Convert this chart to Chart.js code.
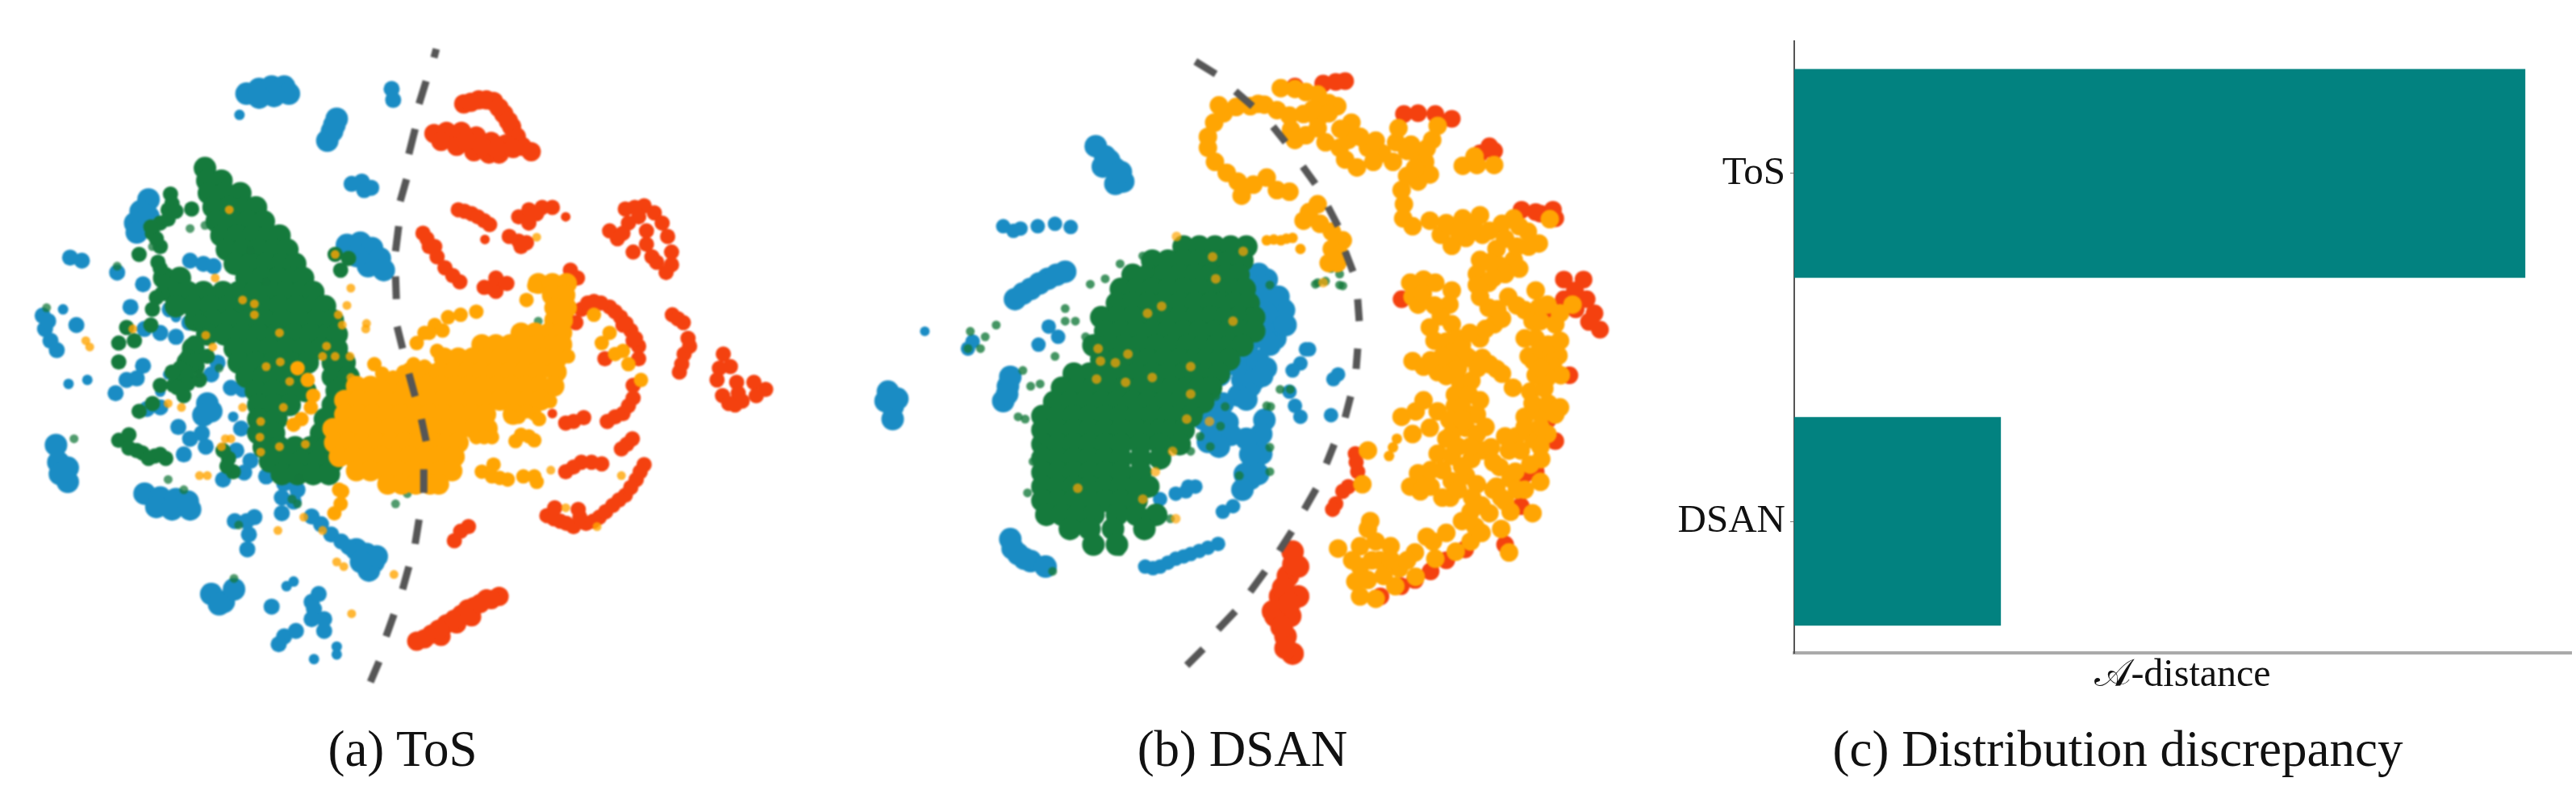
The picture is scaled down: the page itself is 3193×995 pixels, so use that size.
<!DOCTYPE html>
<html>
<head>
<meta charset="utf-8">
<script src="https://cdn.jsdelivr.net/npm/chart.js@4/dist/chart.umd.min.js"></script>
<style>
html, body { margin: 0; background: #fff; width: 3193px; height: 995px; overflow: hidden; }
canvas { position: absolute; top: 0; }
#tsneA { left: 0; filter: blur(0.9px); }
#tsneB { left: 1040px; filter: blur(0.9px); }
#bars { left: 2040px; }
.caption { position: absolute; top: 892px; font: 63px "Liberation Serif", serif; color: #111; transform: translateX(-50%); white-space: nowrap; }
</style>
</head>
<body>
<canvas id="tsneA" width="1000" height="995"></canvas>
<canvas id="tsneB" width="1000" height="995"></canvas>
<canvas id="bars" width="1153" height="866"></canvas>
<div class="caption" style="left:499px">(a) ToS</div>
<div class="caption" style="left:1540px">(b) DSAN</div>
<div class="caption" style="left:2625px">(c) Distribution discrepancy</div>
<script>
// bar chart values
const methods = ['ToS', 'DSAN'];
const methodRows = [0, 1];
const aDistance = [1.882, 0.532];

// (a) ToS embedding
// dense areas are written as [y, [x, x, ...]] rows
const tosGreenRows = [[200,[247]],[216,[250,268]],[232,[252,272,292]],[250,[258,278,298,312]],[268,[262,282,302,322]],[286,[268,288,308,328,342]],[304,[275,295,315,335,352]],[322,[285,305,325,345,362]],[340,[195,215,300,320,340,360,372]],[358,[205,225,245,270,290,310,330,350,370,385]],[376,[210,232,254,276,298,320,342,364,386,400]],[394,[235,257,279,301,323,345,367,389,410]],[412,[250,272,294,316,338,360,382,404,415]],[430,[232,285,307,329,351,373,395,415]],[448,[225,290,312,334,356,378,410,425]],[466,[300,322,344,366,410,430]],[484,[312,334,356,375,415]],[502,[315,335,355,410]],[520,[315,338,400,420]],[538,[315,335,395,420,440]],[556,[322,342,362,382,402,425]],[574,[330,350,370,390,410]],[590,[345,365,385,405]]];
const tosOrangeRows = [[347,[672,690,708]],[362,[690,706]],[378,[693,708]],[394,[693,703]],[410,[650,668,686,702]],[425,[600,618,636,654,672,690,702]],[442,[552,570,588,606,624,642,660,678,696]],[460,[510,528,546,564,582,600,618,636,654,672,695]],[478,[440,458,476,494,512,530,548,566,584,602,620,638,656,674,692]],[496,[425,443,461,479,497,515,533,551,569,587,605,623,641,659,675]],[514,[425,443,461,479,497,515,533,551,569,587,605,640]],[532,[410,428,446,464,482,500,518,536,554,572,590,607]],[550,[412,430,448,466,484,502,520,538,556,570]],[568,[418,436,454,472,490,508,526,544,565]],[586,[440,458,476,494,512,530,548,562]],[603,[480,498,516,534,545]]];
const tosGreenMid = [[203,233],[200,253],[190,270],[180,283],[190,300],[187,320],[193,337],[230,252],[163,310],[147,403],[137,423],[137,447],[157,420],[233,423],[227,440],[237,453],[213,467],[207,477],[190,477],[180,500],[163,510],[220,490],[137,547],[150,557],[167,563],[183,567],[197,570],[277,570],[283,587],[413,310],[420,330],[430,315],[472,492],[497,497],[225,440],[235,445],[215,455],[225,465],[205,460],[225,475],[212,480],[190,328],[195,345],[192,360],[185,365],[205,245],[210,255],[200,265],[185,290],[178,275],[150,540],[160,560],[175,570],[190,565],[270,560],[275,580],[180,380],[178,400],[240,395],[250,440],[240,470]];
const tosGreenSmall = [[228,277],[247,273],[80,545],[200,597],[220,610],[135,325],[180,300],[45,378],[162,513],[240,462],[265,455],[305,305],[325,345],[490,628],[505,615],[365,628],[358,622],[290,655],[284,723],[367,595],[672,395]];
const tosBlueBlobs = [[57,553],[60,575],[72,582],[72,600],[62,590],[170,615],[190,620],[210,622],[228,635],[185,632],[205,635],[225,625],[250,500],[245,515],[255,510],[428,298],[445,295],[460,302],[470,315],[475,330],[455,325],[440,312],[175,240],[165,255],[158,270],[160,282],[175,262],[300,105],[316,99],[332,96],[348,96],[354,105],[335,108],[316,110],[415,137],[409,153],[403,165],[412,145],[453,692],[462,702],[456,713],[466,695],[440,686],[446,702],[255,743],[271,753],[284,737],[265,756]];
const tosBlueMid = [[228,318],[245,322],[258,325],[75,314],[90,318],[40,388],[43,405],[50,420],[58,432],[47,395],[83,400],[170,405],[190,410],[210,415],[227,397],[168,348],[135,333],[152,377],[202,380],[168,452],[147,470],[133,487],[160,468],[213,530],[228,545],[243,538],[248,555],[220,565],[270,597],[297,588],[305,573],[287,560],[293,532],[173,507],[190,505],[280,480],[295,482],[255,463],[263,448],[325,593],[348,602],[345,620],[360,625],[345,640],[365,610],[285,650],[300,650],[310,645],[303,667],[301,686],[383,644],[395,654],[408,667],[421,676],[430,683],[485,99],[487,113],[434,220],[447,217],[459,225],[450,228],[383,753],[392,743],[386,762],[399,775],[383,775],[399,790],[348,797],[341,807],[363,790],[332,759]];
const tosBlueSmall = [[291,132],[66,380],[73,475],[97,470],[200,463],[360,727],[351,733],[386,826],[415,820],[415,810],[283,517],[190,485],[210,390]];
const tosOrangeMid = [[593,383],[573,387],[557,390],[540,400],[527,410],[517,423],[533,410],[550,407],[543,433],[463,450],[473,462],[487,467],[500,460],[513,450],[527,453],[743,387],[763,410],[770,437],[787,450],[803,470],[753,423],[780,433],[657,368],[667,350],[613,543],[593,543],[603,543],[643,548],[650,540],[667,547],[660,542],[600,587],[613,593],[633,597],[653,593],[667,593],[615,578],[670,600],[623,595],[667,513],[673,520],[657,510],[647,517],[637,517],[687,497],[710,440],[365,455],[378,470],[385,490],[382,505],[370,520],[360,527],[418,610],[420,628],[412,640],[422,612]];
const tosOrangeSmall = [[278,253],[260,340],[295,368],[310,373],[310,387],[342,410],[325,453],[343,447],[355,472],[248,413],[257,428],[155,405],[95,420],[100,428],[433,353],[428,375],[417,387],[422,400],[453,398],[452,405],[402,427],[397,440],[413,440],[432,440],[433,467],[413,310],[295,505],[347,505],[318,523],[317,543],[318,562],[342,555],[375,552],[200,500],[217,505],[273,545],[268,555],[280,545],[240,592],[250,592],[373,645],[340,662],[397,662],[415,702],[424,708],[488,718],[434,768],[670,288],[688,585],[778,592],[707,633],[747,657]];
const tosRedBody = [[525,283],[533,300],[543,313],[553,327],[563,337],[572,345],[540,300],[530,290],[570,253],[587,258],[603,267],[610,272],[578,255],[595,262],[647,262],[660,253],[677,250],[690,250],[660,270],[670,258],[635,287],[647,293],[650,300],[657,295],[618,340],[618,357],[603,352],[632,347],[612,352],[713,330],[722,340],[783,252],[807,248],[820,257],[830,270],[837,287],[842,307],[842,323],[835,333],[795,250],[800,262],[787,270],[763,280],[773,290],[810,280],[810,297],[793,307],[817,313],[823,320],[780,283],[720,397],[727,380],[743,370],[763,377],[777,390],[790,407],[800,427],[800,443],[780,400],[793,420],[735,372],[752,372],[770,383],[784,398],[796,417],[793,477],[793,493],[780,513],[760,523],[770,517],[787,503],[757,443],[843,387],[857,397],[863,417],[858,437],[852,460],[865,427],[850,392],[855,450],[908,437],[917,453],[925,473],[932,497],[900,470],[907,490],[923,502],[927,487],[903,455],[915,500],[947,473],[962,482],[950,490],[683,643],[700,650],[717,657],[733,653],[750,645],[767,630],[783,617],[797,597],[807,578],[725,645],[692,647],[708,653],[742,650],[758,638],[775,623],[790,607],[802,587],[693,633],[723,635],[707,587],[727,575],[753,577],[717,581],[740,575],[785,552],[778,558],[792,545],[573,663],[565,675],[583,657],[717,523],[730,518],[707,525]];
const tosRedThick = [[517,803],[536,794],[555,781],[574,769],[590,759],[606,749],[622,746],[548,797],[568,781],[587,772],[527,800],[545,788],[565,775],[582,762],[598,755],[612,750],[577,118],[596,113],[615,115],[628,131],[638,147],[644,160],[586,116],[606,113],[622,123],[634,140],[539,156],[555,153],[574,153],[593,159],[612,166],[631,169],[651,172],[663,179],[548,166],[568,172],[590,179],[609,182],[622,182],[580,165],[600,172],[620,176],[640,175]];
const tosRedSmall = [[707,262],[604,291],[690,513],[615,345]];
const tosBoundary = [[542,48],[539,59],null,[529,89],[520,118],null,[515,150],[507,182],null,[504,214],[496,242],null,[494,274],[490,306],null,[490,338],[491,367],null,[492,402],[499,430],null,[507,462],[515,491],null,[523,520],[529,548],null,[526,584],[526,614],null,[520,648],[515,679],null,[507,708],[499,737],null,[488,769],[478,797],null,[469,829],[458,855]];

// (b) DSAN embedding
const dsanGreenRows = [[300,[425,445,465,485,505]],[318,[385,405,425,445,465,485,500]],[336,[360,380,400,420,440,460,480,495]],[354,[345,365,385,405,425,445,465,485,503]],[372,[340,360,380,400,420,440,460,475,490,508]],[390,[320,340,360,380,400,420,440,460,478,496,515]],[408,[325,345,365,385,405,425,445,465,482,500,515]],[426,[310,330,350,370,390,410,430,450,467,485,500]],[444,[320,340,360,380,400,420,440,455,472,483]],[462,[285,305,325,345,365,385,405,425,440,455,470]],[480,[270,290,310,330,350,370,390,410,430,445,460]],[498,[260,280,300,320,340,360,380,400,420,435,450]],[516,[245,265,285,305,325,345,365,385,405,420,435]],[534,[245,265,285,305,325,345,365,385,395,410,425]],[552,[245,265,285,305,325,345,370,395,420]],[570,[245,265,285,305,325,345,370,395]],[588,[245,265,285,305,325,345,370]],[606,[245,265,285,305,325,345,365,380]],[624,[245,265,285,305,325,345,365]],[642,[250,270,290,310,340,365,390]],[660,[280,305,335,375]],[680,[310,340]]];
const dsanGreenSmall = [[226,614],[233,574],[239,555],[214,517],[223,520],[220,458],[242,475],[230,478],[274,379],[274,395],[287,395],[300,415],[261,440],[306,348],[325,341],[344,322],[383,332],[373,312],[153,408],[186,400],[150,430],[166,430],[172,415],[536,504],[548,482],[561,482],[510,383],[472,529],[459,555],[446,542],[434,561],[446,510],[466,491],[478,504],[408,647],[344,689],[258,714],[606,344],[593,348],[628,350],[596,346],[624,349],[613,328],[624,335],[535,349],[531,503],[535,587],[496,592],[535,556]];
const dsanBlueBlobs = [[313,172],[325,185],[338,201],[348,217],[322,198],[338,220],[330,190],[345,205],[201,478],[195,497],[204,466],[200,488],[48,485],[54,504],[54,520],[45,497],[60,494],[204,673],[214,692],[230,701],[249,708],[207,685],[222,698],[531,342],[521,335],[546,364],[553,381],[542,417],[517,453],[510,478],[499,453],[517,381],[471,464],[460,506],[481,524],[456,549],[528,521],[524,539],[517,560],[514,578],[510,596],[524,564],[503,590],[520,590],[210,367],[230,354],[252,341],[274,332],[220,360],[241,347],[263,336],[525,350],[535,365],[520,365],[540,395],[530,385],[555,400],[525,405],[510,420],[535,425],[505,445],[520,445],[530,455],[500,470],[515,470],[525,465],[495,490],[505,495],[490,450],[455,490],[475,500],[450,520],[470,520],[485,540],[460,540],[470,555],[505,545],[510,565],[500,610]];
const dsanBlueMid = [[195,274],[217,277],[239,274],[261,271],[281,275],[208,280],[376,708],[395,708],[415,698],[434,692],[456,684],[469,679],[386,710],[405,703],[425,695],[445,688],[395,622],[415,615],[440,606],[428,612],[475,638],[488,631],[581,431],[574,449],[564,458],[585,431],[560,485],[567,503],[574,517],[616,469],[622,463],[613,515],[156,421],[150,430],[431,606],[253,402],[265,415],[240,425]];
const dsanBlueSmall = [[95,408]];
const dsanOrangeBody = [[549,98],[567,99],[581,103],[596,106],[610,117],[621,121],[456,160],[464,142],[476,130],[492,122],[510,121],[528,119],[544,126],[560,133],[578,131],[596,137],[562,151],[581,158],[596,149],[567,164],[456,174],[465,192],[480,206],[494,217],[499,235],[514,221],[531,212],[544,228],[560,230],[606,167],[624,174],[639,142],[635,164],[646,199],[631,189],[660,174],[678,181],[667,192],[692,192],[696,167],[699,149],[710,178],[724,185],[742,164],[749,146],[733,192],[739,208],[724,217],[703,228],[706,246],[705,264],[717,274],[739,267],[753,285],[767,299],[785,289],[781,264],[803,260],[806,285],[824,303],[846,317],[803,317],[799,335],[828,324],[853,328],[846,264],[864,281],[878,296],[831,271],[853,274],[781,197],[799,196],[821,196],[796,185],[892,265],[714,346],[731,342],[746,346],[717,364],[724,374],[767,356],[764,374],[753,389],[739,403],[767,399],[760,421],[774,417],[767,435],[785,439],[803,417],[821,399],[831,392],[814,378],[803,364],[799,349],[814,346],[839,364],[860,381],[878,378],[874,356],[899,399],[889,374],[921,374],[717,446],[731,453],[749,460],[767,449],[789,442],[806,442],[824,456],[831,462],[778,474],[792,471],[771,489],[789,489],[803,496],[789,514],[771,503],[799,514],[703,517],[721,510],[731,496],[749,510],[764,521],[717,539],[739,531],[767,539],[785,531],[799,539],[806,560],[792,571],[817,556],[749,564],[767,567],[835,542],[849,542],[871,546],[889,539],[860,517],[881,514],[899,514],[867,485],[885,481],[860,417],[874,417],[871,446],[903,439],[896,453],[906,464],[874,464],[889,467],[885,439],[867,578],[881,571],[828,581],[842,596],[724,589],[714,606],[731,606],[767,599],[785,592],[799,603],[824,606],[860,610],[663,650],[670,676],[650,682],[689,682],[650,708],[644,727],[622,685],[650,746],[670,749],[695,733],[721,721],[746,698],[772,689],[743,676],[791,676],[660,660],[675,700],[791,638],[797,657],[842,638],[848,587],[835,625],[815,640],[820,610],[830,660],[805,665],[727,612],[740,606],[765,620],[793,620],[755,620],[775,610],[585,256],[596,246],[578,267],[599,271],[614,281],[628,292],[614,303],[610,321],[621,321],[624,310],[660,560],[653,603],[840,690],[870,640],[850,610],[880,600],[470,120],[520,118],[590,125],[610,130],[625,150],[650,160],[670,165],[715,170],[720,200],[710,210],[735,175],[760,270],[775,280],[795,275],[815,280],[835,290],[850,300],[865,300],[815,320],[835,335],[820,340],[730,360],[745,375],[745,420],[755,440],[780,425],[790,410],[810,405],[825,380],[850,375],[870,395],[880,395],[905,385],[775,455],[760,465],[740,445],[800,455],[815,450],[780,505],[780,520],[760,545],[775,555],[790,555],[810,530],[860,530],[880,530],[865,440],[880,455],[880,430],[890,425],[905,420],[845,480],[870,500],[890,500],[905,505],[840,560],[820,575],[855,560],[880,555],[740,585],[755,585],[780,580],[830,620],[805,630],[780,650],[760,665],[735,670],[720,690],[700,710],[680,720],[665,700],[640,700],[660,725],[690,700],[710,700]];
const dsanOrangeThin = [[531,292],[549,292],[564,289],[574,303],[692,556],[697,545],[687,567],[540,291],[556,290]];
const dsanOrangeSmall = [[462,313],[501,306],[466,341],[379,385],[397,376],[488,395],[316,430],[354,437],[338,448],[319,446],[434,453],[385,467],[351,473],[314,469],[434,488],[429,520],[458,523],[411,561],[389,587],[373,622],[290,608],[415,647],[416,287],[603,346]];
const dsanRedEdge = [[567,96],[603,92],[631,89],[619,90],[706,131],[724,130],[746,131],[767,137],[750,140],[803,181],[821,178],[815,172],[856,253],[874,256],[896,253],[899,264],[880,258],[910,342],[935,342],[924,356],[939,367],[949,385],[956,406],[942,396],[910,367],[892,389],[925,380],[917,464],[899,548],[874,587],[855,631],[784,686],[740,714],[702,733],[676,746],[703,367],[890,520],[860,590],[835,680],[760,700],[720,725]];
const dsanRedBlob = [[564,689],[558,720],[548,746],[542,771],[561,771],[555,797],[564,819],[571,746],[539,765],[571,708],[555,812],[565,705],[552,735],[560,755],[550,785]];
const dsanRedMid = [[644,564],[647,587],[635,606],[619,628],[628,612],[615,635],[645,575]];
const dsanBoundary = [[440,64],[466,80],null,[491,102],[513,121],null,[539,147],[555,167],null,[577,198],[593,220],null,[609,249],[622,274],null,[631,306],[641,332],null,[647,367],[649,395],null,[647,430],[645,456],null,[638,491],[631,518],null,[617,552],[607,577],null,[594,609],[579,635],null,[563,663],[547,688],null,[529,714],[510,740],null,[491,765],[469,788],null,[450,813],[429,834]];

const BLUE = '#1a8cc4';
const GREEN = '#157a3c';
const ORANGE = '#ffa503';
const RED = '#f4410f';
const SERIF = '"Liberation Serif", "DejaVu Serif", serif';

// [y, [x, x]] rows to [x, y] pairs
function fromRows(rows) {
    const out = [];
    rows.forEach(r => r[1].forEach(x => out.push([x, r[0]])));
    return out;
}

// one scatter dataset
function dots(points, color, radius) {
    return {
        data: points.map(p => ({ x: p[0], y: p[1] })),
        backgroundColor: color,
        pointRadius: radius,
        pointHoverRadius: radius,
        pointBorderWidth: 0
    };
}

// dashed class boundary, null breaks the line
function boundary(points) {
    return {
        data: points.map(p => p ? { x: p[0], y: p[1] } : { x: NaN, y: NaN }),
        showLine: true,
        spanGaps: false,
        borderColor: '#565656',
        borderWidth: 9,
        pointRadius: 0
    };
}

// first dataset is drawn on top
function drawScatter(id, datasets) {
    new Chart(document.getElementById(id), {
        type: 'scatter',
        data: { datasets: datasets },
        options: {
            responsive: false,
            animation: false,
            plugins: { legend: { display: false }, tooltip: { enabled: false } },
            scales: {
                x: { display: false, min: 0, max: 1000 },
                y: { display: false, min: 0, max: 995, reverse: true }
            }
        }
    });
}

function drawBars() {
    new Chart(document.getElementById('bars'), {
        type: 'bar',
        data: {
            datasets: [{
                data: methods.map((m, i) => ({ x: aDistance[i], y: methodRows[i] })),
                backgroundColor: '#028280',
                barPercentage: 0.6,
                categoryPercentage: 1
            }]
        },
        options: {
            indexAxis: 'y',
            responsive: false,
            animation: false,
            layout: { padding: { top: 51, right: 6 } },
            plugins: { legend: { display: false }, tooltip: { enabled: false } },
            scales: {
                x: {
                    type: 'linear',
                    min: 0,
                    max: 2,
                    grid: { display: false },
                    ticks: { display: false },
                    border: { color: '#aaaaaa', width: 4 },
                    title: { display: true, text: '𝒜-distance', color: '#111', font: { family: SERIF, size: 48 }, padding: 0 },
                    afterFit: s => { s.height = 57; }
                },
                y: {
                    type: 'linear',
                    reverse: true,
                    offset: false,
                    min: -0.38,
                    max: 1.378,
                    afterBuildTicks: s => { s.ticks = methodRows.map(v => ({ value: v })); },
                    afterFit: s => { s.width = 184; },
                    grid: { drawOnChartArea: false, offset: false, tickLength: 5, color: '#777' },
                    border: { color: '#555555', width: 2 },
                    ticks: {
                        color: '#111',
                        padding: 6,
                        font: { family: SERIF, size: 49 },
                        callback: v => methods[v]
                    }
                }
            }
        }
    });
}

function init() {
    drawScatter('tsneA', [
        boundary(tosBoundary),
        dots(tosOrangeSmall, 'rgba(255,165,3,0.8)', 5.5),
        dots(tosOrangeMid, ORANGE, 9),
        dots(fromRows(tosOrangeRows), ORANGE, 13),
        dots(tosGreenSmall, 'rgba(21,122,60,0.75)', 5.5),
        dots(tosGreenMid, GREEN, 9.5),
        dots(fromRows(tosGreenRows), GREEN, 14),
        dots(tosRedSmall, RED, 6),
        dots(tosRedBody, RED, 9.5),
        dots(tosRedThick, RED, 12),
        dots(tosBlueSmall, BLUE, 6.5),
        dots(tosBlueMid, BLUE, 10),
        dots(tosBlueBlobs, BLUE, 14)
    ]);
    drawScatter('tsneB', [
        boundary(dsanBoundary),
        dots(dsanOrangeSmall, 'rgba(255,165,3,0.7)', 6),
        dots(dsanOrangeThin, ORANGE, 6.5),
        dots(dsanOrangeBody, ORANGE, 11.5),
        dots(dsanGreenSmall, 'rgba(21,122,60,0.8)', 5.5),
        dots(fromRows(dsanGreenRows), GREEN, 14),
        dots(dsanRedBlob, RED, 14),
        dots(dsanRedMid, RED, 9.5),
        dots(dsanRedEdge, RED, 11),
        dots(dsanBlueSmall, BLUE, 6),
        dots(dsanBlueMid, BLUE, 9),
        dots(dsanBlueBlobs, BLUE, 14)
    ]);
    drawBars();
}

document.addEventListener('DOMContentLoaded', init);
</script>
</body>
</html>
